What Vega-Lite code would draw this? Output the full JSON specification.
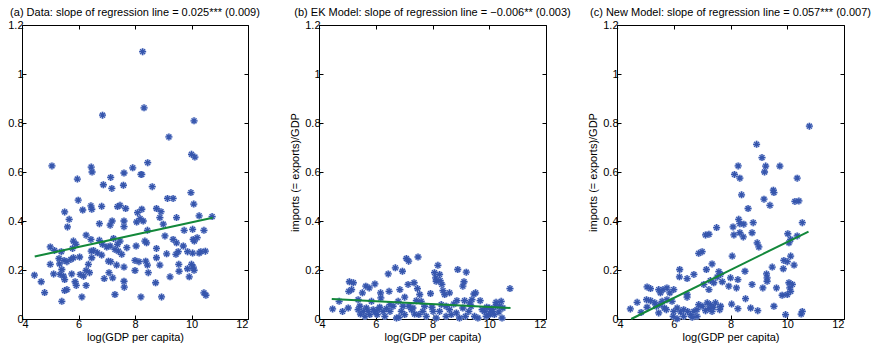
{
  "$schema": "https://vega.github.io/schema/vega-lite/v6.json",
  "padding": {"left": 7, "top": 6, "right": 0, "bottom": 0},
  "background": "white",
  "config": {
    "view": {"stroke": "black", "strokeWidth": 1},
    "font": "Liberation Sans",
    "title": {"fontSize": 11, "fontWeight": "normal", "color": "black", "offset": 1, "anchor": "middle", "frame": "group"},
    "axis": {"grid": false, "domain": false, "ticks": true, "tickColor": "black", "tickWidth": 1, "tickSize": -4, "labelPadding": 3, "labelFontSize": 11, "labelColor": "black", "titleFontSize": 11, "titleFontWeight": "normal", "titleColor": "black", "zindex": 1}
  },
  "bounds": "flush",
  "spacing": 71,
  "datasets": {
    "a": [
      {"x":5.06,"y":0.625},{"x":6.45,"y":0.62},{"x":6.48,"y":0.6},{"x":6.85,"y":0.832},{"x":7.61,"y":0.596},{"x":7.92,"y":0.617},{"x":8.24,"y":0.59},{"x":8.27,"y":1.091},{"x":8.32,"y":0.862},{"x":8.45,"y":0.638},{"x":9.2,"y":0.743},{"x":10.0,"y":0.672},{"x":10.12,"y":0.661},{"x":10.09,"y":0.809},
      {"x":5.96,"y":0.571},{"x":7.14,"y":0.578},{"x":8.21,"y":0.59},{"x":6.88,"y":0.548},{"x":7.18,"y":0.533},{"x":7.59,"y":0.546},{"x":8.61,"y":0.54},{"x":9.98,"y":0.516},{"x":9.15,"y":0.492},{"x":9.35,"y":0.492},{"x":10.08,"y":0.469},{"x":5.99,"y":0.485},
      {"x":5.51,"y":0.437},{"x":6.15,"y":0.445},{"x":6.44,"y":0.462},{"x":6.47,"y":0.448},{"x":6.82,"y":0.46},{"x":7.38,"y":0.459},{"x":7.47,"y":0.464},{"x":7.67,"y":0.451},{"x":8.24,"y":0.448},{"x":8.09,"y":0.434},{"x":8.76,"y":0.451},{"x":8.92,"y":0.438},
      {"x":5.67,"y":0.407},{"x":5.61,"y":0.376},{"x":6.74,"y":0.389},{"x":7.12,"y":0.383},{"x":7.19,"y":0.4},{"x":7.61,"y":0.4},{"x":7.61,"y":0.377},{"x":8.06,"y":0.396},{"x":8.18,"y":0.41},{"x":8.29,"y":0.4},{"x":8.88,"y":0.414},{"x":9.0,"y":0.387},{"x":9.47,"y":0.414},{"x":10.27,"y":0.421},{"x":10.73,"y":0.418},
      {"x":8.44,"y":0.362},{"x":9.06,"y":0.339},{"x":9.74,"y":0.362},{"x":10.04,"y":0.366},{"x":10.44,"y":0.362},{"x":6.27,"y":0.342},{"x":5.82,"y":0.318},{"x":6.44,"y":0.325},{"x":6.74,"y":0.321},{"x":7.24,"y":0.329},{"x":7.47,"y":0.318},{"x":7.71,"y":0.291},{"x":8.04,"y":0.298},{"x":8.35,"y":0.318},{"x":8.41,"y":0.311},{"x":9.35,"y":0.325},{"x":9.47,"y":0.311},{"x":9.71,"y":0.298},{"x":10.06,"y":0.325},{"x":10.2,"y":0.332},{"x":10.1,"y":0.318},
      {"x":5.0,"y":0.294},{"x":5.15,"y":0.28},{"x":5.39,"y":0.275},{"x":5.79,"y":0.288},{"x":5.91,"y":0.305},{"x":6.67,"y":0.27},{"x":6.85,"y":0.305},{"x":7.0,"y":0.294},{"x":7.12,"y":0.298},{"x":7.29,"y":0.284},{"x":7.38,"y":0.305},{"x":7.41,"y":0.277},{"x":7.53,"y":0.264},{"x":8.76,"y":0.288},{"x":9.12,"y":0.266},{"x":9.45,"y":0.264},{"x":9.53,"y":0.275},{"x":9.86,"y":0.275},{"x":10.04,"y":0.269},{"x":10.27,"y":0.269},{"x":10.33,"y":0.275},{"x":10.49,"y":0.277},{"x":6.45,"y":0.277},{"x":6.53,"y":0.28},{"x":6.82,"y":0.261},
      {"x":5.31,"y":0.247},{"x":5.49,"y":0.239},{"x":5.73,"y":0.243},{"x":5.82,"y":0.25},{"x":6.04,"y":0.253},{"x":6.47,"y":0.25},{"x":5.0,"y":0.223},{"x":5.33,"y":0.225},{"x":5.59,"y":0.234},{"x":5.41,"y":0.202},{"x":6.35,"y":0.223},{"x":7.06,"y":0.236},{"x":7.14,"y":0.234},{"x":7.35,"y":0.22},{"x":7.61,"y":0.212},{"x":8.0,"y":0.239},{"x":8.14,"y":0.234},{"x":8.38,"y":0.236},{"x":8.44,"y":0.22},{"x":8.76,"y":0.25},{"x":8.88,"y":0.22},{"x":9.55,"y":0.223},{"x":10.0,"y":0.223},{"x":10.06,"y":0.212},
      {"x":6.39,"y":0.189},{"x":6.27,"y":0.198},{"x":6.06,"y":0.182},{"x":6.18,"y":0.175},{"x":5.12,"y":0.184},{"x":5.35,"y":0.182},{"x":5.47,"y":0.175},{"x":5.76,"y":0.184},{"x":4.44,"y":0.179},{"x":4.68,"y":0.152},{"x":4.8,"y":0.108},{"x":5.51,"y":0.161},{"x":5.88,"y":0.152},{"x":5.92,"y":0.137},{"x":6.27,"y":0.137},{"x":7.08,"y":0.189},{"x":7.21,"y":0.168},{"x":6.91,"y":0.165},{"x":7.61,"y":0.154},{"x":7.62,"y":0.13},{"x":8.0,"y":0.198},{"x":8.47,"y":0.189},{"x":8.73,"y":0.148},{"x":9.24,"y":0.172},{"x":9.56,"y":0.195},{"x":9.86,"y":0.205},{"x":10.09,"y":0.199},{"x":9.92,"y":0.172},
      {"x":5.51,"y":0.116},{"x":5.59,"y":0.12},{"x":5.41,"y":0.072},{"x":6.12,"y":0.09},{"x":7.29,"y":0.1},{"x":8.21,"y":0.09},{"x":8.94,"y":0.09},{"x":10.44,"y":0.107},{"x":10.51,"y":0.097}
    ],
    "aLine": [{"x":4.45,"y":0.255},{"x":10.75,"y":0.413}],
    "b": [
      {"x":4.48,"y":0.041},{"x":4.71,"y":0.072},{"x":4.83,"y":0.031},{"x":5.03,"y":0.045},{"x":5.07,"y":0.152},{"x":5.21,"y":0.148},{"x":5.05,"y":0.113},{"x":5.15,"y":0.12},{"x":5.38,"y":0.079},{"x":5.44,"y":0.052},{"x":5.53,"y":0.107},{"x":5.65,"y":0.134},{"x":5.77,"y":0.127},{"x":5.97,"y":0.143},{"x":5.56,"y":0.031},{"x":5.67,"y":0.045},{"x":5.79,"y":0.018},{"x":5.85,"y":0.072},{"x":5.91,"y":0.038},{"x":6.05,"y":0.018},{"x":6.14,"y":0.048},{"x":6.18,"y":0.086},{"x":6.17,"y":0.107},{"x":6.26,"y":0.031},{"x":6.32,"y":0.011},
      {"x":6.44,"y":0.184},{"x":6.47,"y":0.113},{"x":6.5,"y":0.031},{"x":6.61,"y":0.052},{"x":6.69,"y":0.209},{"x":6.73,"y":0.004},{"x":6.82,"y":0.007},{"x":6.85,"y":0.12},{"x":6.94,"y":0.195},{"x":6.9,"y":0.031},{"x":7.02,"y":0.089},{"x":7.08,"y":0.247},{"x":7.16,"y":0.236},{"x":7.14,"y":0.141},{"x":7.17,"y":0.052},{"x":7.26,"y":0.038},{"x":7.35,"y":0.148},{"x":7.47,"y":0.124},{"x":7.49,"y":0.253},{"x":7.55,"y":0.1},{"x":7.43,"y":0.075},{"x":7.6,"y":0.072},{"x":7.66,"y":0.031},{"x":7.72,"y":0.052},{"x":7.52,"y":0.018},
      {"x":7.93,"y":0.104},{"x":7.98,"y":0.048},{"x":8.02,"y":0.031},{"x":8.07,"y":0.189},{"x":8.11,"y":0.168},{"x":8.13,"y":0.154},{"x":8.19,"y":0.219},{"x":8.25,"y":0.182},{"x":8.27,"y":0.157},{"x":8.33,"y":0.141},{"x":8.37,"y":0.116},{"x":8.43,"y":0.1},{"x":8.31,"y":0.059},{"x":8.48,"y":0.052},{"x":8.6,"y":0.107},{"x":8.66,"y":0.018},{"x":8.48,"y":0.011},{"x":8.75,"y":0.061},{"x":8.86,"y":0.075},{"x":8.89,"y":0.202},{"x":8.95,"y":0.004},{"x":9.07,"y":0.134},{"x":9.11,"y":0.152},{"x":9.19,"y":0.191},{"x":9.13,"y":0.075},
      {"x":9.28,"y":0.031},{"x":9.36,"y":0.052},{"x":9.39,"y":0.079},{"x":9.46,"y":0.102},{"x":9.52,"y":0.107},{"x":9.48,"y":0.011},{"x":9.6,"y":0.004},{"x":9.68,"y":0.075},{"x":9.75,"y":0.038},{"x":9.83,"y":0.031},{"x":9.91,"y":0.048},{"x":9.98,"y":0.018},{"x":10.01,"y":0.045},{"x":10.07,"y":0.038},{"x":10.12,"y":0.031},{"x":10.22,"y":0.052},{"x":10.24,"y":0.068},{"x":10.34,"y":0.029},{"x":10.42,"y":0.072},{"x":10.45,"y":0.004},{"x":10.73,"y":0.124},{"x":10.48,"y":0.045},
      {"x":5.38,"y":0.038},{"x":5.46,"y":0.02},{"x":5.62,"y":0.011},{"x":5.73,"y":0.031},{"x":5.97,"y":0.029},{"x":6.08,"y":0.038},{"x":6.38,"y":0.042},{"x":6.5,"y":0.059},{"x":6.79,"y":0.072},{"x":6.96,"y":0.052},{"x":7.02,"y":0.018},{"x":7.31,"y":0.045},{"x":7.37,"y":0.02},{"x":7.78,"y":0.011},{"x":8.13,"y":0.004},{"x":8.25,"y":0.031},{"x":8.6,"y":0.038},{"x":8.84,"y":0.025},{"x":9.07,"y":0.045},{"x":9.16,"y":0.011},{"x":9.31,"y":0.066},{"x":9.89,"y":0.011},{"x":10.03,"y":0.02},{"x":10.18,"y":0.018},{"x":10.36,"y":0.052}
    ],
    "bLine": [{"x":4.45,"y":0.082},{"x":10.75,"y":0.045}],
    "c": [
      {"x":10.78,"y":0.787},{"x":8.92,"y":0.713},{"x":9.11,"y":0.659},{"x":8.27,"y":0.625},{"x":9.24,"y":0.624},{"x":9.74,"y":0.624},{"x":9.2,"y":0.6},{"x":8.14,"y":0.59},{"x":8.33,"y":0.575},{"x":10.35,"y":0.575},{"x":8.39,"y":0.507},{"x":9.18,"y":0.489},{"x":9.51,"y":0.526},{"x":9.53,"y":0.516},{"x":9.39,"y":0.464},{"x":8.62,"y":0.451},{"x":10.27,"y":0.48},{"x":10.41,"y":0.482},
      {"x":7.51,"y":0.373},{"x":7.12,"y":0.343},{"x":7.24,"y":0.346},{"x":8.09,"y":0.376},{"x":8.29,"y":0.407},{"x":8.33,"y":0.389},{"x":8.47,"y":0.387},{"x":8.8,"y":0.393},{"x":8.33,"y":0.352},{"x":8.45,"y":0.335},{"x":8.12,"y":0.343},{"x":8.76,"y":0.352},{"x":8.94,"y":0.311},{"x":9.0,"y":0.294},{"x":10.02,"y":0.348},{"x":10.12,"y":0.325},{"x":10.06,"y":0.311},{"x":10.53,"y":0.393},{"x":10.35,"y":0.339},
      {"x":6.88,"y":0.268},{"x":7.0,"y":0.275},{"x":8.06,"y":0.257},{"x":7.35,"y":0.225},{"x":6.21,"y":0.202},{"x":6.71,"y":0.182},{"x":6.2,"y":0.172},{"x":6.47,"y":0.165},{"x":7.15,"y":0.202},{"x":7.59,"y":0.193},{"x":7.65,"y":0.182},{"x":7.53,"y":0.171},{"x":8.0,"y":0.168},{"x":8.26,"y":0.161},{"x":8.51,"y":0.195},{"x":9.27,"y":0.184},{"x":9.29,"y":0.168},{"x":9.47,"y":0.212},{"x":9.29,"y":0.154},{"x":9.86,"y":0.205},{"x":9.88,"y":0.239},{"x":10.0,"y":0.234},{"x":10.12,"y":0.257},{"x":10.24,"y":0.22},
      {"x":7.29,"y":0.157},{"x":7.41,"y":0.148},{"x":7.06,"y":0.141},{"x":7.24,"y":0.12},{"x":7.71,"y":0.152},{"x":7.94,"y":0.134},{"x":8.21,"y":0.127},{"x":8.76,"y":0.141},{"x":9.14,"y":0.127},{"x":9.62,"y":0.127},{"x":9.82,"y":0.097},{"x":10.06,"y":0.148},{"x":10.09,"y":0.127},{"x":10.12,"y":0.113},{"x":10.18,"y":0.141},{"x":10.0,"y":0.1},
      {"x":5.06,"y":0.131},{"x":5.18,"y":0.124},{"x":5.47,"y":0.12},{"x":5.62,"y":0.12},{"x":5.76,"y":0.127},{"x":6.0,"y":0.12},{"x":5.86,"y":0.107},{"x":5.53,"y":0.107},{"x":6.47,"y":0.1},{"x":6.47,"y":0.089},
      {"x":4.47,"y":0.041},{"x":4.71,"y":0.068},{"x":4.85,"y":0.027},{"x":5.04,"y":0.079},{"x":5.18,"y":0.075},{"x":5.06,"y":0.048},{"x":5.33,"y":0.066},{"x":5.39,"y":0.052},{"x":5.51,"y":0.059},{"x":5.47,"y":0.025},{"x":5.59,"y":0.072},{"x":5.76,"y":0.079},{"x":5.67,"y":0.045},{"x":5.74,"y":0.038},{"x":5.94,"y":0.072},{"x":6.0,"y":0.031},{"x":6.12,"y":0.045},{"x":5.98,"y":0.011},{"x":6.12,"y":0.001},{"x":6.24,"y":0.029},{"x":6.35,"y":0.038},{"x":6.49,"y":0.031},{"x":6.59,"y":0.018},{"x":6.35,"y":0.011},{"x":6.65,"y":0.007},{"x":6.82,"y":0.011},{"x":6.71,"y":0.031},{"x":6.88,"y":0.059},{"x":7.0,"y":0.052},{"x":7.18,"y":0.066},{"x":7.29,"y":0.059},{"x":7.24,"y":0.042},{"x":7.39,"y":0.048},{"x":7.47,"y":0.066},{"x":7.65,"y":0.052},{"x":7.62,"y":0.038},{"x":7.35,"y":0.031},{"x":7.12,"y":0.034},{"x":6.82,"y":0.038},{"x":8.04,"y":0.061},{"x":8.26,"y":0.042},{"x":8.53,"y":0.083},{"x":8.71,"y":0.045},{"x":8.96,"y":0.034},{"x":9.53,"y":0.052},{"x":9.94,"y":0.018},{"x":10.49,"y":0.02},{"x":10.53,"y":0.031}
    ],
    "cLine": [{"x":4.5,"y":0.0},{"x":10.75,"y":0.357}]
  },
  "hconcat": [
    {
      "width": 226, "height": 294,
      "title": "(a) Data: slope of regression line = 0.025*** (0.009)",
      "layer": [
        {"data": {"name": "a"}, "mark": {"type": "point", "shape": "M-1,0L1,0M0,-1L0,1M-0.7,-0.7L0.7,0.7M-0.7,0.7L0.7,-0.7", "filled": false, "color": "#b3c1e8", "strokeWidth": 3, "size": 49, "opacity": 0.8},
          "encoding": {
            "x": {"field": "x", "type": "quantitative", "scale": {"domain": [4, 12], "nice": false, "zero": false}, "axis": {"values": [4,6,8,10,12], "title": "log(GDP per capita)", "titlePadding": 2}},
            "y": {"field": "y", "type": "quantitative", "scale": {"domain": [0, 1.2], "nice": false}, "axis": {"values": [0,0.2,0.4,0.6,0.8,1,1.2], "labelExpr": "'' + datum.value", "title": null}}
          }},
        {"data": {"name": "a"}, "mark": {"type": "point", "shape": "M-1,0L1,0M0,-1L0,1M-0.7,-0.7L0.7,0.7M-0.7,0.7L0.7,-0.7", "filled": false, "color": "#3656ad", "strokeWidth": 1.3, "size": 49, "opacity": 1},
          "encoding": {"x": {"field": "x", "type": "quantitative", "axis": null}, "y": {"field": "y", "type": "quantitative", "axis": null}}},
        {"data": {"name": "aLine"}, "mark": {"type": "line", "color": "#13883a", "strokeWidth": 2},
          "encoding": {
            "x": {"field": "x", "type": "quantitative", "axis": {"orient": "top", "values": [4,6,8,10,12], "labels": false, "title": null}},
            "y": {"field": "y", "type": "quantitative", "axis": {"orient": "right", "values": [0,0.2,0.4,0.6,0.8,1,1.2], "labels": false, "title": null}}}}
      ],
      "resolve": {"axis": {"x": "independent", "y": "independent"}}
    },
    {
      "width": 227, "height": 294,
      "title": "(b) EK Model: slope of regression line = −0.006** (0.003)",
      "layer": [
        {"data": {"name": "b"}, "mark": {"type": "point", "shape": "M-1,0L1,0M0,-1L0,1M-0.7,-0.7L0.7,0.7M-0.7,0.7L0.7,-0.7", "filled": false, "color": "#b3c1e8", "strokeWidth": 3, "size": 49, "opacity": 0.8},
          "encoding": {
            "x": {"field": "x", "type": "quantitative", "scale": {"domain": [4, 12], "nice": false, "zero": false}, "axis": {"values": [4,6,8,10,12], "title": "log(GDP per capita)", "titlePadding": 2}},
            "y": {"field": "y", "type": "quantitative", "scale": {"domain": [0, 1.2], "nice": false}, "axis": {"values": [0,0.2,0.4,0.6,0.8,1,1.2], "labelExpr": "'' + datum.value", "title": "imports (= exports)/GDP", "titlePadding": 4}}
          }},
        {"data": {"name": "b"}, "mark": {"type": "point", "shape": "M-1,0L1,0M0,-1L0,1M-0.7,-0.7L0.7,0.7M-0.7,0.7L0.7,-0.7", "filled": false, "color": "#3656ad", "strokeWidth": 1.3, "size": 49, "opacity": 1},
          "encoding": {"x": {"field": "x", "type": "quantitative", "axis": null}, "y": {"field": "y", "type": "quantitative", "axis": null}}},
        {"data": {"name": "bLine"}, "mark": {"type": "line", "color": "#13883a", "strokeWidth": 2},
          "encoding": {
            "x": {"field": "x", "type": "quantitative", "axis": {"orient": "top", "values": [4,6,8,10,12], "labels": false, "title": null}},
            "y": {"field": "y", "type": "quantitative", "axis": {"orient": "right", "values": [0,0.2,0.4,0.6,0.8,1,1.2], "labels": false, "title": null}}}}
      ],
      "resolve": {"axis": {"x": "independent", "y": "independent"}}
    },
    {
      "width": 227, "height": 294,
      "title": "(c) New Model: slope of regression line = 0.057*** (0.007)",
      "layer": [
        {"data": {"name": "c"}, "mark": {"type": "point", "shape": "M-1,0L1,0M0,-1L0,1M-0.7,-0.7L0.7,0.7M-0.7,0.7L0.7,-0.7", "filled": false, "color": "#b3c1e8", "strokeWidth": 3, "size": 49, "opacity": 0.8},
          "encoding": {
            "x": {"field": "x", "type": "quantitative", "scale": {"domain": [4, 12], "nice": false, "zero": false}, "axis": {"values": [4,6,8,10,12], "title": "log(GDP per capita)", "titlePadding": 2}},
            "y": {"field": "y", "type": "quantitative", "scale": {"domain": [0, 1.2], "nice": false}, "axis": {"values": [0,0.2,0.4,0.6,0.8,1,1.2], "labelExpr": "'' + datum.value", "title": "imports (= exports)/GDP", "titlePadding": 4}}
          }},
        {"data": {"name": "c"}, "mark": {"type": "point", "shape": "M-1,0L1,0M0,-1L0,1M-0.7,-0.7L0.7,0.7M-0.7,0.7L0.7,-0.7", "filled": false, "color": "#3656ad", "strokeWidth": 1.3, "size": 49, "opacity": 1},
          "encoding": {"x": {"field": "x", "type": "quantitative", "axis": null}, "y": {"field": "y", "type": "quantitative", "axis": null}}},
        {"data": {"name": "cLine"}, "mark": {"type": "line", "color": "#13883a", "strokeWidth": 2},
          "encoding": {
            "x": {"field": "x", "type": "quantitative", "axis": {"orient": "top", "values": [4,6,8,10,12], "labels": false, "title": null}},
            "y": {"field": "y", "type": "quantitative", "axis": {"orient": "right", "values": [0,0.2,0.4,0.6,0.8,1,1.2], "labels": false, "title": null}}}}
      ],
      "resolve": {"axis": {"x": "independent", "y": "independent"}}
    }
  ]
}
